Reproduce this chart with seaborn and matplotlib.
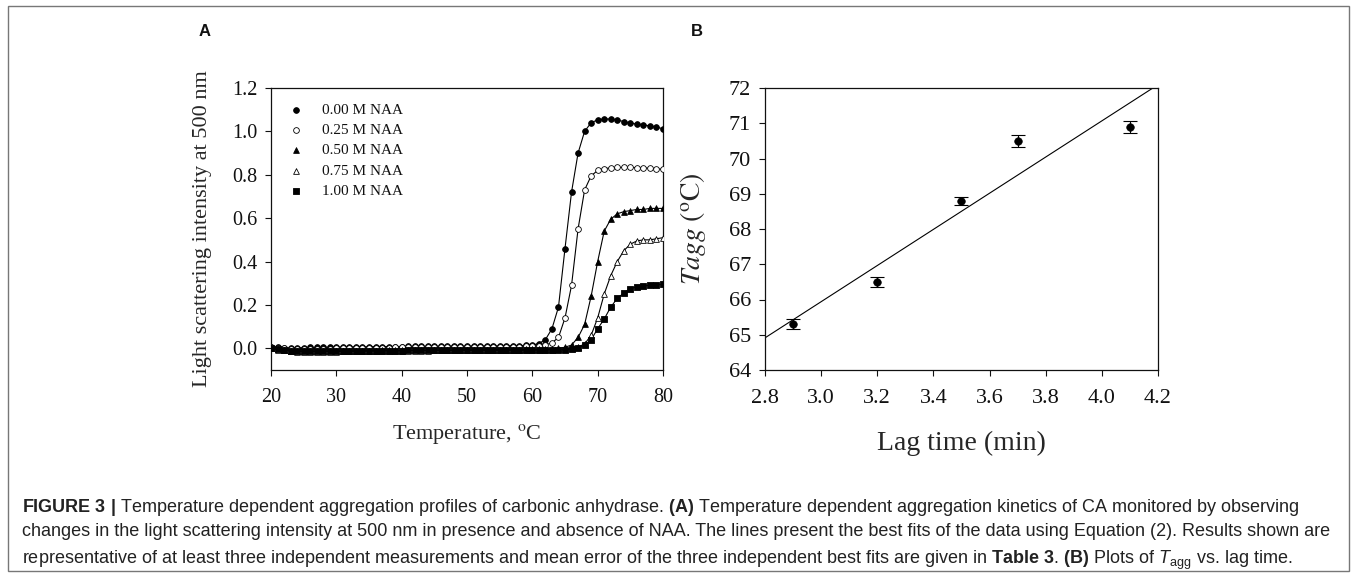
import seaborn as sns
import matplotlib.pyplot as plt
from matplotlib import font_manager
from matplotlib.patches import Rectangle

# ---- panel A: light scattering vs temperature ----
temps = list(range(20, 81))
labels_a = ['0.00 M NAA', '0.25 M NAA', '0.50 M NAA', '0.75 M NAA', '1.00 M NAA']

naa_000 = [0.005, 0.004, 0.003, 0.002, 0.002, 0.003, 0.004, 0.004, 0.005, 0.005,
           0.006, 0.006, 0.006, 0.007, 0.007, 0.007, 0.008, 0.008, 0.008, 0.008,
           0.008, 0.009, 0.009, 0.009, 0.009, 0.009, 0.010, 0.010, 0.010, 0.010,
           0.010, 0.010, 0.010, 0.011, 0.011, 0.011, 0.011, 0.012, 0.012, 0.013,
           0.015, 0.022, 0.040, 0.090, 0.190, 0.460, 0.720, 0.900, 1.000, 1.040,
           1.053, 1.057, 1.057, 1.053, 1.045, 1.038, 1.034, 1.030, 1.025, 1.020, 1.012]
naa_025 = [0.004, 0.002, 0.000, -0.002, -0.003, -0.003, -0.002, -0.002, -0.001, -0.001,
           0.000, 0.000, 0.001, 0.001, 0.002, 0.002, 0.003, 0.003, 0.003, 0.004,
           0.004, 0.004, 0.005, 0.005, 0.005, 0.005, 0.006, 0.006, 0.006, 0.006,
           0.006, 0.007, 0.007, 0.007, 0.007, 0.007, 0.008, 0.008, 0.008, 0.009,
           0.010, 0.012, 0.016, 0.025, 0.050, 0.140, 0.290, 0.550, 0.730, 0.795,
           0.820, 0.828, 0.832, 0.834, 0.834, 0.834, 0.833, 0.832, 0.830, 0.828, 0.825]
naa_050 = [0.002, -0.004, -0.008, -0.011, -0.013, -0.014, -0.014, -0.014, -0.013, -0.013,
           -0.013, -0.012, -0.012, -0.012, -0.011, -0.011, -0.011, -0.010, -0.010, -0.010,
           -0.010, -0.009, -0.009, -0.009, -0.009, -0.008, -0.008, -0.008, -0.008, -0.008,
           -0.007, -0.007, -0.007, -0.007, -0.007, -0.006, -0.006, -0.006, -0.006, -0.005,
           -0.005, -0.004, -0.003, -0.002, 0.000, 0.005, 0.015, 0.050, 0.110, 0.240,
           0.400, 0.540, 0.595, 0.620, 0.630, 0.635, 0.640, 0.640, 0.645, 0.645, 0.645]
naa_075 = [0.000, -0.006, -0.010, -0.013, -0.015, -0.016, -0.016, -0.016, -0.015, -0.015,
           -0.015, -0.014, -0.014, -0.014, -0.013, -0.013, -0.013, -0.012, -0.012, -0.012,
           -0.012, -0.011, -0.011, -0.011, -0.011, -0.010, -0.010, -0.010, -0.010, -0.010,
           -0.009, -0.009, -0.009, -0.009, -0.009, -0.008, -0.008, -0.008, -0.008, -0.008,
           -0.008, -0.007, -0.007, -0.006, -0.005, -0.003, 0.000, 0.006, 0.020, 0.060,
           0.140, 0.250, 0.335, 0.400, 0.450, 0.480, 0.495, 0.500, 0.500, 0.505, 0.510]
naa_100 = [0.000, -0.005, -0.009, -0.011, -0.012, -0.013, -0.013, -0.013, -0.013, -0.013,
           -0.012, -0.012, -0.012, -0.012, -0.012, -0.011, -0.011, -0.011, -0.011, -0.011,
           -0.011, -0.010, -0.010, -0.010, -0.010, -0.010, -0.010, -0.010, -0.009, -0.009,
           -0.009, -0.009, -0.009, -0.009, -0.009, -0.009, -0.009, -0.008, -0.008, -0.008,
           -0.008, -0.008, -0.008, -0.007, -0.007, -0.006, -0.004, 0.000, 0.015, 0.040,
           0.090, 0.135, 0.190, 0.230, 0.255, 0.275, 0.283, 0.288, 0.290, 0.292, 0.295]

# ---- panel B: Tagg vs lag time ----
lag_time = [2.9, 3.2, 3.5, 3.7, 4.1]
t_agg = [65.3, 66.5, 68.8, 70.5, 70.9]
t_agg_err = [0.15, 0.15, 0.12, 0.17, 0.17]

caption_lines = [
    r"$\mathbf{FIGURE\ 3\ |}$ Temperature dependent aggregation profiles of carbonic anhydrase. "
    r"$\mathbf{(A)}$ Temperature dependent aggregation kinetics of CA monitored by observing",
    "changes in the light scattering intensity at 500 nm in presence and absence of NAA. "
    "The lines present the best fits of the data using Equation (2). Results shown are",
    r"representative of at least three independent measurements and mean error of the three "
    r"independent best fits are given in $\mathbf{Table\ 3}$. $\mathbf{(B)}$ Plots of "
    r"$T_{\mathrm{agg}}$ vs. lag time.",
]

sns.set_style('ticks')
names = {f.name for f in font_manager.fontManager.ttflist}
cap_font = 'Liberation Sans Narrow' if 'Liberation Sans Narrow' in names else 'Liberation Sans'
plt.rcParams['font.family'] = ['Liberation Serif', 'DejaVu Serif']
plt.rcParams['mathtext.fontset'] = 'stix'
plt.rcParams['mathtext.rm'] = cap_font
plt.rcParams['mathtext.it'] = cap_font + ':italic'
plt.rcParams['mathtext.bf'] = cap_font + ':bold'
plt.rcParams['axes.edgecolor'] = '#111111'
plt.rcParams['axes.linewidth'] = 0.9
plt.rcParams['text.color'] = '#111111'
plt.rcParams['xtick.color'] = '#111111'
plt.rcParams['ytick.color'] = '#111111'

W, H = 1357, 577
fig = plt.figure(figsize=(W / 100, H / 100), dpi=100)

# outer frame
fig.patches.append(Rectangle((8 / W, 6 / H), 1341 / W, 565 / H, transform=fig.transFigure,
                             fill=False, edgecolor='#777777', linewidth=1.0))

axA = fig.add_axes([271 / W, 1 - 370 / H, 392 / W, 282 / H])
axB = fig.add_axes([765 / W, 1 - 370 / H, 393 / W, 282 / H])

series = [naa_000, naa_025, naa_050, naa_075, naa_100]
markers = ['o', 'o', '^', '^', 's']
faces = ['black', 'white', 'black', 'white', 'black']
for vals, mk, fc, lab in zip(series, markers, faces, labels_a):
    sns.lineplot(x=temps, y=vals, color='black', linewidth=0.8, ax=axA, legend=False)
    sns.scatterplot(x=temps, y=vals, marker=mk, s=17, color='black', facecolor=fc,
                    edgecolor='black', linewidth=0.6, label=lab, ax=axA, zorder=3)

axA.set_xlim(20, 80)
axA.set_ylim(-0.1, 1.2)
axA.set_xticks([20, 30, 40, 50, 60, 70, 80])
axA.set_yticks([0.0, 0.2, 0.4, 0.6, 0.8, 1.0, 1.2])
axA.set_yticklabels([f'{v:.1f}' for v in [0.0, 0.2, 0.4, 0.6, 0.8, 1.0, 1.2]])
axA.tick_params(axis='both', labelsize=14.5, length=4, width=0.8, direction='out')
axA.tick_params(axis='x', pad=9)
axA.tick_params(axis='y', pad=6)
axA.set_xlabel(r'Temperature, $^{\mathrm{o}}$C', fontsize=16, va='center')
axA.xaxis.set_label_coords(0.5, -(434 - 370) / 282)
axA.set_ylabel('Light scattering intensity at 500 nm', fontsize=16, va='center')
axA.yaxis.set_label_coords((203 - 271) / 392, 0.5)
axA.legend(loc='upper left', bbox_to_anchor=(0.044, 0.946), frameon=False, fontsize=11,
           handlelength=1.0, handletextpad=1.2, labelspacing=0.43, borderpad=0,
           borderaxespad=0, scatterpoints=1, markerscale=1.0)

axB.set_xlim(2.8, 4.2)
sns.regplot(x=lag_time, y=t_agg, ci=None, scatter=False, truncate=False, color='black',
            line_kws={'linewidth': 0.8}, ax=axB)
axB.errorbar(lag_time, t_agg, yerr=t_agg_err, fmt='none', ecolor='black', elinewidth=0.8,
             capsize=5, capthick=0.8)
sns.scatterplot(x=lag_time, y=t_agg, color='black', s=30, edgecolor='black', ax=axB, zorder=3)
axB.set_xlim(2.8, 4.2)
axB.set_ylim(64, 72)
axB.set_xticks([2.8, 3.0, 3.2, 3.4, 3.6, 3.8, 4.0, 4.2])
axB.set_xticklabels([f'{v:.1f}' for v in [2.8, 3.0, 3.2, 3.4, 3.6, 3.8, 4.0, 4.2]])
axB.set_yticks(range(64, 73))
axB.tick_params(axis='both', labelsize=16, length=4, width=0.8, direction='out')
axB.tick_params(axis='x', pad=10)
axB.tick_params(axis='y', pad=6)
axB.set_xlabel('Lag time (min)', fontsize=20, va='center')
axB.xaxis.set_label_coords(0.5, -(443 - 370) / 282)
axB.set_ylabel(r'$Tagg\ (^{\mathrm{o}}\mathrm{C})$', fontsize=20, va='center')
axB.yaxis.set_label_coords((693 - 765) / 393, 0.5)

for ax in (axA, axB):
    for sp in ax.spines.values():
        sp.set_visible(True)

fig.text(205 / W, 1 - 32 / H, 'A', fontsize=12, fontweight='bold', family='Liberation Sans',
         ha='center', va='center')
fig.text(697 / W, 1 - 32 / H, 'B', fontsize=12, fontweight='bold', family='Liberation Sans',
         ha='center', va='center')

# caption, sized so that the second line spans the same width as the reference
cap_y = [505, 530, 556]
texts = []
for line, yy in zip(caption_lines, cap_y):
    texts.append(fig.text(22 / W, 1 - yy / H, line, fontsize=13, family=cap_font,
                          color='#222222', ha='left', va='center_baseline',
                          math_fontfamily='custom'))
fig.canvas.draw()
w2 = texts[1].get_window_extent().width
scale = (1326 - 22) / w2
for t in texts:
    t.set_fontsize(13 * scale)

fig.savefig('out.png', dpi=100)
